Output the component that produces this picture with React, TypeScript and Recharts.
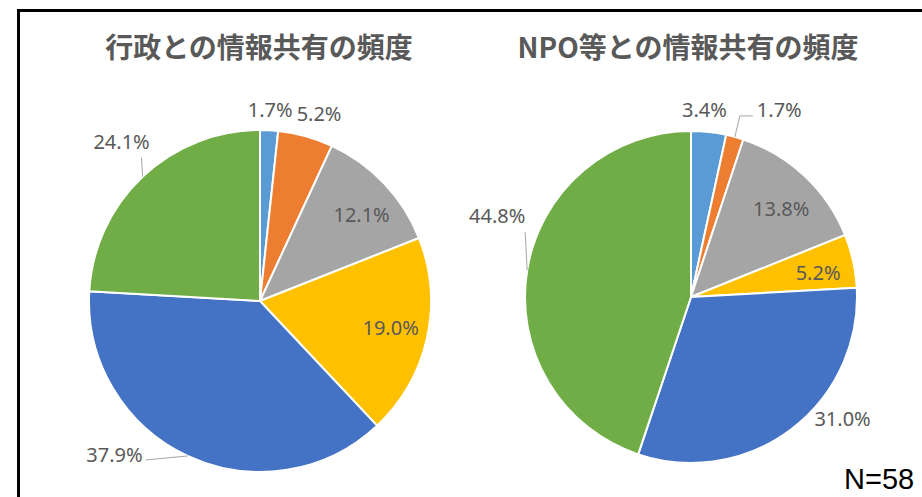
import { PieChart, Pie, Cell } from "recharts";

const sliceColors = ["#5B9BD5", "#ED7D31", "#A5A5A5", "#FFC000", "#4472C4", "#70AD47"];
const govShares = [1.7, 5.2, 12.1, 19.0, 37.9, 24.1];
const npoShares = [3.4, 1.7, 13.8, 5.2, 31.0, 44.8];
const govTitle = "行政との情報共有の頻度";
const npoTitle = "NPO等との情報共有の頻度";
const sampleNote = "N=58";

const toRows = (vals: number[]) => vals.map((value, i) => ({ name: `item${i + 1}`, value }));

type LabelSpec = {
    k?: number;
    shift?: number;
    leader?: [number, number][];
    anchor?: "start" | "middle" | "end";
    tx?: number;
    ty?: number;
};

// label placement per slice (radial factor or leader line offsets from the slice edge)
const govLabels: LabelSpec[] = [
    { k: 1.12 },
    { k: 1.15, shift: 2 },
    { k: 0.78, shift: 3 },
    { k: 0.78, shift: -1 },
    { leader: [[-42, 4]], anchor: "end", tx: -3, ty: 2 },
    { leader: [[-1, -19]], anchor: "middle", tx: -20, ty: -9 },
];
const npoLabels: LabelSpec[] = [
    { k: 1.13, shift: -2 },
    { leader: [[5, -21], [18, -21]], anchor: "start", tx: 4, ty: 1 },
    { k: 0.76, shift: 2.4 },
    { k: 0.78, shift: 1.5 },
    { k: 1.17, shift: -14 },
    { leader: [[-2, -38]], anchor: "middle", tx: -28, ty: -9 },
];

const RAD = Math.PI / 180;
const labelFont = "'Noto Sans', sans-serif";

function makeLabel(specs: LabelSpec[]) {
    return (props: any) => {
        const { cx, cy, midAngle, outerRadius, index, value } = props;
        const s = specs[index];
        const text = `${Number(value).toFixed(1)}%`;
        if (s.leader) {
            const a = midAngle * RAD;
            const ex = cx + outerRadius * Math.cos(a);
            const ey = cy - outerRadius * Math.sin(a);
            const pts = [[ex, ey], ...s.leader.map(([dx, dy]) => [ex + dx, ey + dy])];
            const [lx, ly] = pts[pts.length - 1];
            return (
                <g key={`lbl-${index}`}>
                    <polyline
                        points={pts.map((p) => p.join(",")).join(" ")}
                        fill="none"
                        stroke="#A6A6A6"
                        strokeWidth={1}
                    />
                    <text
                        x={lx + (s.tx || 0)}
                        y={ly + (s.ty || 0)}
                        textAnchor={s.anchor}
                        fontFamily={labelFont}
                        fontSize={20}
                        fill="#595959"
                    >
                        {text}
                    </text>
                </g>
            );
        }
        const a = (midAngle - (s.shift || 0)) * RAD;
        const r = outerRadius * (s.k || 0.7);
        return (
            <text
                key={`lbl-${index}`}
                x={cx + r * Math.cos(a)}
                y={cy - r * Math.sin(a)}
                textAnchor="middle"
                dominantBaseline="central"
                fontFamily={labelFont}
                fontSize={20}
                fill="#595959"
            >
                {text}
            </text>
        );
    };
}

const titleStyle = {
    position: "absolute" as const,
    top: 28,
    width: 460,
    textAlign: "center" as const,
    fontFamily: "'Noto Sans CJK JP', sans-serif",
    fontWeight: 700,
    fontSize: 28,
    color: "#595959",
    lineHeight: "36px",
};

export default function App() {
    return (
        <div style={{ position: "fixed", left: 0, top: 0, width: 922, height: 497, background: "#fff", overflow: "hidden" }}>
            <div
                style={{
                    position: "absolute",
                    left: 17,
                    top: 9,
                    width: 1000,
                    height: 600,
                    border: "3px solid #000",
                }}
            />
            <div style={{ ...titleStyle, left: 29 }}>{govTitle}</div>
            <div style={{ ...titleStyle, left: 458 }}>{npoTitle}</div>
            <div style={{ position: "absolute", top: 0, left: 0 }}>
                <PieChart width={922} height={497} margin={{ top: 0, right: 0, bottom: 0, left: 0 }}>
                    <Pie
                        data={toRows(govShares)}
                        dataKey="value"
                        cx={260}
                        cy={301}
                        outerRadius={171}
                        startAngle={90}
                        endAngle={-270}
                        stroke="#fff"
                        strokeWidth={2}
                        label={makeLabel(govLabels)}
                        labelLine={false}
                        isAnimationActive={false}
                    >
                        {govShares.map((_, i) => (
                            <Cell key={`g-${i}`} fill={sliceColors[i]} />
                        ))}
                    </Pie>
                    <Pie
                        data={toRows(npoShares)}
                        dataKey="value"
                        cx={691}
                        cy={297}
                        outerRadius={166}
                        startAngle={90}
                        endAngle={-270}
                        stroke="#fff"
                        strokeWidth={2}
                        label={makeLabel(npoLabels)}
                        labelLine={false}
                        isAnimationActive={false}
                    >
                        {npoShares.map((_, i) => (
                            <Cell key={`n-${i}`} fill={sliceColors[i]} />
                        ))}
                    </Pie>
                </PieChart>
            </div>
            <div
                style={{
                    position: "absolute",
                    left: 844,
                    top: 462,
                    fontFamily: "'Liberation Sans', Arial, sans-serif",
                    fontSize: 29,
                    lineHeight: "34px",
                    color: "#000",
                }}
            >
                {sampleNote}
            </div>
        </div>
    );
}
